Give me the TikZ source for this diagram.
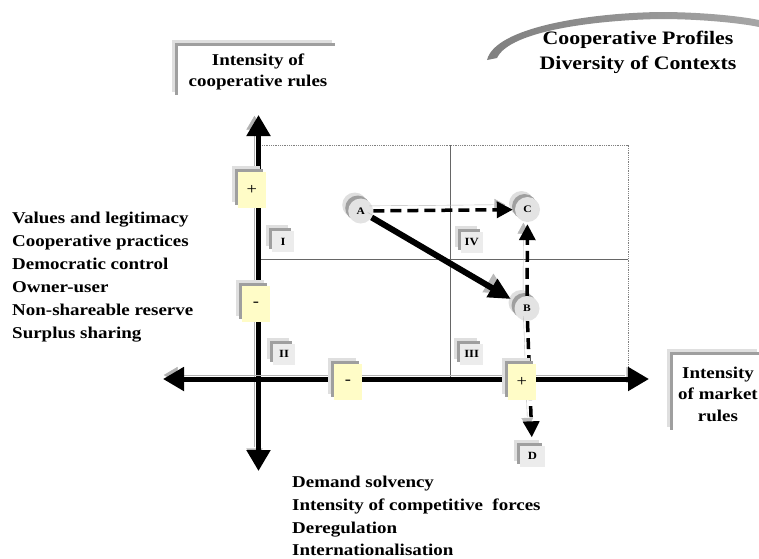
\documentclass[tikz,border=0pt]{standalone}
\usepackage{fontspec}
\setmainfont[FakeStretch=1.15]{Liberation Serif}
\usetikzlibrary{arrows.meta}

\begin{document}
\begin{tikzpicture}[x=1pt, y=-1pt, >={Triangle[length=16pt,width=16pt]}, font=\bfseries]
      \tikzstyle{shade L} = [preaction={fill=gray!25, transform canvas={shift={(-6,-6)}}},
         preaction={fill=gray!75, transform canvas={shift={(-3,-3)}}}]
      \tikzstyle{tag} = [shade L, rectangle, fill=yellow!22, minimum width=28pt, minimum height=36pt,
         inner sep=0pt, font=\fontsize{16}{16}\selectfont\mdseries]
      \tikzstyle{quad} = [shade L, rectangle, fill=gray!15, minimum width=22pt, minimum height=21pt,
         inner xsep=4pt, inner ysep=0pt, font=\fontsize{11}{12}\selectfont\bfseries]
      \tikzstyle{point} = [shade L, circle, fill=gray!22, minimum size=25pt, inner sep=0pt,
         font=\fontsize{10}{10}\selectfont\bfseries]
      \tikzstyle{frame} = [shade L, rectangle, fill=white, align=center, inner sep=0pt,
         font=\fontsize{16.5}{21.5}\selectfont\bfseries]
      \tikzstyle{axis} = [line width=5pt, {Triangle[length=21pt,width=23pt]}-{Triangle[length=21pt,width=23pt]},
         preaction={draw=gray!60, transform canvas={shift={(-4,-4)}}}]
      \tikzstyle{move} = [line width=3.5pt, ->, shorten >=2pt,
         preaction={draw=gray!55, transform canvas={shift={(-4,-5)}}}]
      \useasboundingbox (0,0) rectangle (759,558);

      %title
      \shade[left color=gray, middle color=gray!30, right color=gray!70]
         (487,60) .. controls (495,27) and (590,13) .. (660,12) .. controls (700,12) and (740,16) .. (759,20)
         -- (759,27) .. controls (740,23) and (700,19) .. (660,19) .. controls (600,20) and (510,30) .. (497,58) -- cycle;
      \node[font=\fontsize{19}{25}\selectfont\bfseries, align=center] (title) at (638,52) {Cooperative Profiles\\Diversity of Contexts};

      %grid
      \draw[gray, densely dotted, line width=0.8pt] (262,145) -| (628,372);
      \draw[gray!80!black, line width=1pt] (450,145) -- (450,378);
      \draw[gray!80!black, line width=1pt] (260,259) -- (628,259);

      %axes
      \coordinate (ytop) at (258.5,115);
      \coordinate (ybot) at (258.5,471);
      \coordinate (xleft) at (163,379);
      \coordinate (xright) at (649,379);
      \draw[axis] (ybot) -- (ytop);
      \draw[axis] (xleft) -- (xright);

      %labels
      \node[frame, minimum width=160pt, minimum height=52pt] (coop) at (258,72) {Intensity of\\cooperative rules};
      \node[frame, minimum width=90pt, minimum height=78pt] (market) at (718,394) {Intensity\\of market\\rules};
      \node[font=\fontsize{16.5}{23}\selectfont\bfseries, align=left, anchor=west, inner sep=0pt] (values) at (12,277)
         {Values and legitimacy\\Cooperative practices\\Democratic control\\Owner-user\\Non-shareable reserve\\Surplus sharing};
      \node[font=\fontsize{16.5}{22.7}\selectfont\bfseries, align=left, anchor=west, inner sep=0pt] (forces) at (292,516)
         {Demand solvency\\Intensity of competitive\ \ forces\\Deregulation\\Internationalisation};

      %quadrants
      \node[quad] (q1) at (283,241.5) {I};
      \node[quad] (q2) at (284,354) {II};
      \node[quad] (q3) at (471.7,354) {III};
      \node[quad] (q4) at (471.7,242) {IV};

      %profiles
      \node[point] (A) at (360.7,211) {A};
      \node[point] (C) at (527.5,209.5) {C};
      \node[point] (B) at (527,308.5) {B};
      \node[quad, minimum width=25pt] (D) at (532.5,456) {D};

      %moves
      \draw[move, dash pattern=on 11pt off 6pt] (A) -- (C);
      \draw[move, dash pattern=on 11pt off 6pt] (B) -- (C);
      \draw[move, dash pattern=on 11pt off 6pt, shorten >=8pt] (B) -- (D);
      \draw[move, line width=6pt, -{Triangle[length=22pt,width=20pt]}, shorten >=6pt] (A) -- (B);

      %signs
      \node[tag] (yplus) at (251.7,190) {+};
      \node[tag] (yminus) at (256,304) {-};
      \node[tag] (xminus) at (348,382) {-};
      \node[tag] (xplus) at (521.7,381.7) {+};
    \end{tikzpicture}
\end{document}
